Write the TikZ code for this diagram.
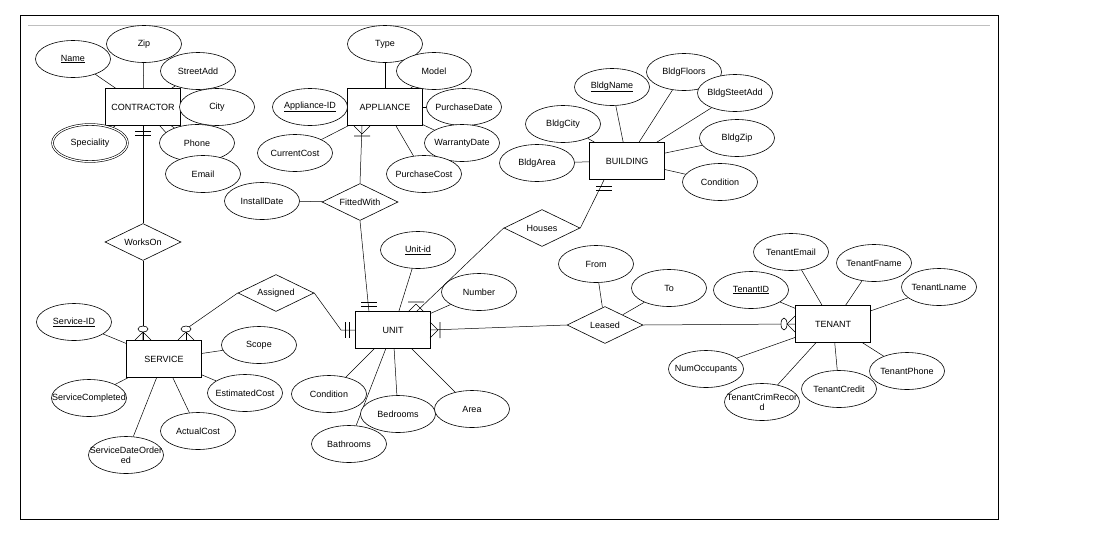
\documentclass[tikz,border=0pt]{standalone}
\usepackage{fontspec}
\setmainfont{Liberation Sans}
\usetikzlibrary{shapes.geometric,backgrounds}
\newcommand{\atx}[1]{\makebox[0pt]{\shortstack{#1}}}
\begin{document}
\begin{tikzpicture}[x=1pt,y=-1pt,line width=0.6pt,
  every node/.style={font=\fontsize{9}{10}\selectfont},
  ent/.style={draw,fill=white,minimum width=75pt,minimum height=37pt,inner sep=0pt},
  att/.style={draw,fill=white,ellipse,minimum width=75pt,minimum height=37pt,inner sep=0pt},
  rel/.style={draw,fill=white,diamond,minimum width=76pt,minimum height=37pt,inner sep=0pt,aspect=2},
  mv/.style={att,double,double distance=1.2pt},
  ln/.style={draw,line width=0.5pt}]
\useasboundingbox (0,0) rectangle (1104,539);
% entities
\node[ent] (con) at (143,107) {CONTRACTOR};
\node[ent] (app) at (385,107) {APPLIANCE};
\node[ent] (bld) at (627,161) {BUILDING};
\node[ent] (unit) at (393,330) {UNIT};
\node[ent] (srv) at (164,359) {SERVICE};
\node[ent] (ten) at (833,324) {TENANT};
% relations
\node[rel] (works) at (143,242) {\atx{WorksOn}};
\node[rel] (fit) at (360,202) {\atx{FittedWith}};
\node[rel] (asg) at (276,293) {\atx{Assigned}};
\node[rel] (hou) at (542,228) {\atx{Houses}};
\node[rel] (lea) at (605,325) {\atx{Leased}};
% attributes
\node[att] (a1) at (73,59) {\atx{\underline{Name}}};
\node[att] (a2) at (144,44) {\atx{Zip}};
\node[att] (a3) at (198,71) {\atx{StreetAdd}};
\node[att] (a4) at (217,107) {\atx{City}};
\node[mv] (a5) at (90,143) {\atx{Speciality}};
\node[att] (a6) at (197,143) {\atx{Phone}};
\node[att] (a7) at (203,174) {\atx{Email}};
\node[att] (b1) at (385,44) {\atx{Type}};
\node[att] (b2) at (434,71) {\atx{Model}};
\node[att] (b3) at (310,107) {\atx{\underline{Appliance-ID}}};
\node[att] (b4) at (464,107) {\atx{PurchaseDate}};
\node[att] (b5) at (295,153) {\atx{CurrentCost}};
\node[att] (b6) at (462,143) {\atx{WarrantyDate}};
\node[att] (b7) at (424,174) {\atx{PurchaseCost}};
\node[att] (c0) at (262,201) {\atx{InstallDate}};
\node[att] (c1) at (418,250) {\atx{\underline{Unit-id}}};
\node[att] (c2) at (479,292) {\atx{Number}};
\node[att] (c3) at (329,394) {\atx{Condition}};
\node[att] (c4) at (398,414) {\atx{Bedrooms}};
\node[att] (c5) at (472,409) {\atx{Area}};
\node[att] (c6) at (349,444) {\atx{Bathrooms}};
\node[att] (d1) at (74,322) {\atx{\underline{Service-ID}}};
\node[att] (d2) at (259,345) {\atx{Scope}};
\node[att] (d3) at (89,398) {\atx{ServiceCompleted}};
\node[att] (d4) at (245,393) {\atx{EstimatedCost}};
\node[att] (d5) at (198,431) {\atx{ActualCost}};
\node[att] (d6) at (126,455) {\atx{ServiceDateOrder\\ed}};
\node[att] (e1) at (612,87) {\atx{\underline{BldgName}}};
\node[att] (e2) at (684,72) {\atx{BldgFloors}};
\node[att] (e3) at (735,93) {\atx{BldgSteetAdd}};
\node[att] (e4) at (563,124) {\atx{BldgCity}};
\node[att] (e5) at (737,138) {\atx{BldgZip}};
\node[att] (e6) at (537,163) {\atx{BldgArea}};
\node[att] (e7) at (720,182) {\atx{Condition}};
\node[att] (f1) at (596,264) {\atx{From}};
\node[att] (f2) at (669,288) {\atx{To}};
\node[att] (g1) at (791,252) {\atx{TenantEmail}};
\node[att] (g2) at (874,263) {\atx{TenantFname}};
\node[att] (g3) at (939,287) {\atx{TenantLname}};
\node[att] (g4) at (751,290) {\atx{\underline{TenantID}}};
\node[att] (g5) at (706,369) {\atx{NumOccupants}};
\node[att] (g6) at (762,402) {\atx{TenantCrimRecor\\d}};
\node[att] (g7) at (839,389) {\atx{TenantCredit}};
\node[att] (g8) at (907,371) {\atx{TenantPhone}};
\begin{scope}[on background layer]
\draw[line width=0.8pt] (20,15) rectangle (998,519);
\draw[gray!50,line width=1pt] (28,25) -- (990,25);
\foreach \a in {a1,a2,a3,a4,a5,a6,a7} \draw[ln] (\a) -- (con);
\foreach \a in {b1,b2,b3,b4,b5,b6,b7} \draw[ln] (\a) -- (app);
\draw[ln] (c0) -- (fit);
\foreach \a in {c1,c2,c3,c4,c5,c6} \draw[ln] (\a) -- (unit);
\foreach \a in {d1,d2,d3,d4,d5,d6} \draw[ln] (\a) -- (srv);
\foreach \a in {e1,e2,e3,e4,e5,e6,e7} \draw[ln] (\a) -- (bld);
\foreach \a in {f1,f2} \draw[ln] (\a) -- (lea);
\foreach \a in {g1,g2,g3,g4,g5,g6,g7,g8} \draw[ln] (\a) -- (ten);
\end{scope}
% relationship lines
\draw[ln] (con.south) -- (works.north);
\draw (135,131) -- (151,131) (135,135) -- (151,135);
\draw[ln] (works.south) -- (srv.north -| works.south);
\draw (143,332) -- (135,340) (143,332) -- (151,340) (143,332) -- (143,340);
\draw[fill=white] (143,329) ellipse (5 and 3);
\coordinate (s2) at (186,340);
\draw[ln] (asg.west) -- (186,329);
\draw[ln] (186,332) -- (s2);
\draw (186,332) -- (178,340) (186,332) -- (194,340);
\draw[fill=white] (186,329) ellipse (5 and 3);
\coordinate (u1) at (341,330);
\draw[ln] (asg.east) -- (u1) -- (unit.west);
\draw (345,322) -- (345,338) (349,322) -- (349,338);
\coordinate (ap) at (362,126);
\draw[ln] (fit.north) -- (ap);
\draw (362,134) -- (354,126) (362,134) -- (370,126) (354,136) -- (370,136);
\coordinate (ut) at (369,312);
\draw[ln] (fit.south) -- (ut);
\draw (361,302) -- (377,302) (361,306) -- (377,306);
\coordinate (bb) at (604,180);
\draw[ln] (hou.east) -- (bb);
\draw (596,186) -- (612,186) (596,190) -- (612,190);
\coordinate (ut2) at (416,312);
\draw[ln] (hou.west) -- (ut2);
\draw (416,304) -- (408,312) (416,304) -- (424,312) (408,302) -- (424,302);
\draw[ln] (unit.east) -- (lea.west);
\draw (438,330) -- (430,322) (438,330) -- (430,338) (440,322) -- (440,338);
\draw[ln] (lea.east) -- (ten.west);
\draw (787,324) -- (795,316) (787,324) -- (795,332);
\draw[fill=white] (784,324) ellipse (3 and 6);
\end{tikzpicture}
\end{document}
